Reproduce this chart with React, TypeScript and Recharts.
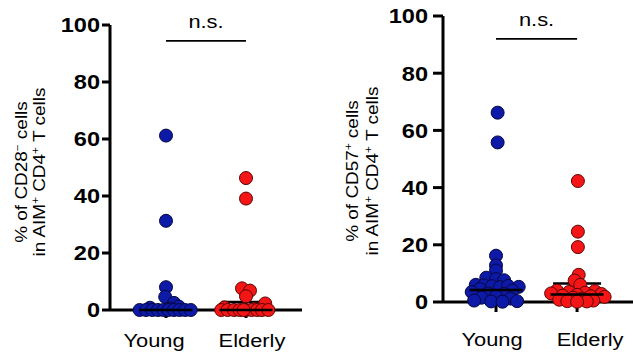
import React from "react";
import { ScatterChart, Scatter, XAxis, YAxis, ErrorBar, ReferenceLine } from "recharts";

const groups = ["Young", "Elderly"];
const yTicks = [0, 20, 40, 60, 80, 100];

// % CD28- panel
const cd28YoungValues = [61.2, 31.3, 8.0, 4.6, 2.5, 1.2, 0.8, 0.5, 0, 0, 0, 0, 0, 0, 0, 0, 0, 0];
const cd28YoungJitter = [0, 0, 0, -0.01, 0.1, 0.16, -0.2, 0.05, -0.33, -0.25, -0.17, -0.1, -0.03, 0.03, 0.1, 0.17, 0.24, 0.31];
const cd28ElderlyValues = [46.3, 39.1, 7.6, 6.8, 4.8, 2.3, 0.9, 0.4, 0, 0, 0, 0, 0, 0, 0, 0, 0, 0];
const cd28ElderlyJitter = [0, 0, -0.05, 0.05, 0, 0.24, -0.27, 0.1, -0.31, -0.23, -0.15, -0.08, 0, 0.07, 0.14, 0.2, 0.28, -0.03];
const cd28Median = [0, 0];
const cd28Q1 = [0, 0];
const cd28Q3 = [1.5, 2.8];

// % CD57+ panel
const cd57YoungValues = [66.2, 55.8, 16.2, 12.8, 11.0, 8.5, 8.0, 7.6, 6.0, 5.8, 5.5, 5.2, 5.6, 5.3, 4.5, 4.0, 3.5, 3.0, 2.8, 2.0, 1.5, 1.2, 0.5, 0.3, 0.2, 0.1];
const cd57YoungJitter = [0.02, 0.02, 0, 0, 0, -0.12, 0, 0.1, -0.25, -0.15, -0.05, 0.05, 0.15, 0.28, -0.2, 0.2, -0.3, -0.1, 0.1, 0, -0.18, 0.18, -0.27, 0.26, -0.06, 0.08];
const cd57ElderlyValues = [42.3, 24.6, 19.2, 9.5, 7.5, 6.0, 4.0, 3.8, 3.5, 3.2, 3.0, 2.8, 2.5, 2.2, 2.0, 1.8, 1.5, 1.2, 0.8, 0.5, 0.3, 0.2, 0.1];
const cd57ElderlyJitter = [0.01, 0.01, 0.01, 0.02, -0.03, 0.04, -0.25, 0.22, -0.1, 0.1, -0.32, 0.3, 0, -0.18, 0.17, 0.34, -0.05, 0.06, -0.22, 0.2, -0.12, 0.12, 0];
const cd57Median = [4.2, 2.6];
const cd57Q1 = [0.8, 0.5];
const cd57Q3 = [6.0, 6.5];

const FONT = "Arial, 'Liberation Sans', sans-serif";
const STRETCH = 1.15;

function toPoints(values: number[], jitter: number[], group: number) {
  return values.map((y, i) => ({ x: group + jitter[i], y }));
}

function toSummary(median: number[], q1: number[], q3: number[]) {
  return median.map((m, i) => ({ x: i, y: m, err: [m - q1[i], q3[i] - m] }));
}

const dot = (fill: string, stroke: string) => (props: any) => (
  <circle cx={props.cx} cy={props.cy} r={6.5} fill={fill} stroke={stroke} strokeWidth={1} />
);

const medianLine = (props: any) => (
  <line x1={props.cx - 26.5} x2={props.cx + 26.5} y1={props.cy} y2={props.cy} stroke="#000" strokeWidth={2.5} />
);

function YTick({ x, y, payload }: any) {
  return (
    <g transform={`translate(${x},${y}) scale(${STRETCH},1)`}>
      <text textAnchor="end" dy="0.36em" fontFamily={FONT} fontWeight="bold" fontSize={20.5} fill="#000">
        {payload.value}
      </text>
    </g>
  );
}

const makeXTick = (shift: number[]) => ({ x, y, payload }: any) => (
  <g transform={`translate(${x + shift[payload.value]},${y}) scale(${STRETCH},1)`}>
    <text textAnchor="middle" dy="0.72em" fontFamily={FONT} fontSize={19} fill="#000">
      {groups[payload.value]}
    </text>
  </g>
);

function NsLabel({ viewBox }: any) {
  const cx = viewBox.x + viewBox.width / 2;
  return (
    <g transform={`translate(${cx},${viewBox.y - 13}) scale(${STRETCH},1)`}>
      <text textAnchor="middle" fontFamily={FONT} fontSize={19} fill="#000">n.s.</text>
    </g>
  );
}

function YLabel({ marker, sign, x1, x2, cy }: any) {
  const sup = (s: string) => (
    <>
      <tspan dy={-6} fontSize={10}>{s}</tspan>
      <tspan dy={6}>{" "}</tspan>
    </>
  );
  return (
    <g fontFamily={FONT} fontSize={16.5} fill="#000">
      <text transform={`translate(${x1},${cy}) rotate(-90) scale(${STRETCH},1)`} textAnchor="middle">
        <tspan>% of {marker}</tspan>
        {sup(sign)}
        <tspan>cells</tspan>
      </text>
      <text transform={`translate(${x2},${cy}) rotate(-90) scale(${STRETCH},1)`} textAnchor="middle">
        <tspan>in AIM</tspan>
        {sup("+")}
        <tspan>CD4</tspan>
        {sup("+")}
        <tspan>T cells</tspan>
      </text>
    </g>
  );
}

type PanelProps = {
  width: number;
  top: number;
  right: number;
  yAxisWidth: number;
  xAxisHeight: number;
  xDomain: [number, number];
  tickSize: number;
  yTickMargin: number;
  xTickMargin: number;
  labelShift: number[];
  young: { x: number; y: number }[];
  elderly: { x: number; y: number }[];
  summary: { x: number; y: number; err: number[] }[];
  nsY: number;
  marker: string;
  sign: string;
  labelX: [number, number];
  labelY: number;
};

function Panel(p: PanelProps) {
  const XTick = makeXTick(p.labelShift);
  return (
    <ScatterChart width={p.width} height={356} margin={{ top: p.top, right: p.right, bottom: 0, left: 0 }}>
      <XAxis
        type="number"
        dataKey="x"
        domain={p.xDomain}
        ticks={[0, 1]}
        interval={0}
        height={p.xAxisHeight}
        axisLine={{ stroke: "#000", strokeWidth: 3 }}
        tickLine={{ stroke: "#000", strokeWidth: 3 }}
        tickSize={p.tickSize}
        tickMargin={p.xTickMargin}
        tick={<XTick />}
      />
      <YAxis
        type="number"
        dataKey="y"
        domain={[0, 100]}
        ticks={yTicks}
        interval={0}
        width={p.yAxisWidth}
        axisLine={{ stroke: "#000", strokeWidth: 3 }}
        tickLine={{ stroke: "#000", strokeWidth: 3 }}
        tickSize={p.tickSize}
        tickMargin={p.yTickMargin}
        tick={<YTick />}
        label={<YLabel marker={p.marker} sign={p.sign} x1={p.labelX[0]} x2={p.labelX[1]} cy={p.labelY} />}
      />
      <ReferenceLine
        segment={[{ x: 0, y: p.nsY }, { x: 1, y: p.nsY }]}
        stroke="#000"
        strokeWidth={1.8}
        label={<NsLabel />}
      />
      <Scatter data={p.young} shape={dot("#0d1aa8", "#07073f")} isAnimationActive={false} />
      <Scatter data={p.elderly} shape={dot("#f41616", "#5a0505")} isAnimationActive={false} />
      <Scatter data={p.summary} shape={medianLine} isAnimationActive={false}>
        <ErrorBar dataKey="err" direction="y" width={24} stroke="#000" strokeWidth={2.5} />
      </Scatter>
    </ScatterChart>
  );
}

export default function App() {
  return (
    <div style={{ position: "absolute", left: 0, top: 0, width: 633, height: 356, background: "#fff", overflow: "hidden" }}>
      <div style={{ position: "absolute", left: 0, top: 0 }}>
        <Panel
          width={320}
          top={25}
          right={18}
          yAxisWidth={110}
          xAxisHeight={46}
          xDomain={[-0.7, 1.7]}
          tickSize={8}
          yTickMargin={2}
          xTickMargin={15}
          labelShift={[-12, 6]}
          young={toPoints(cd28YoungValues, cd28YoungJitter, 0)}
          elderly={toPoints(cd28ElderlyValues, cd28ElderlyJitter, 1)}
          summary={toSummary(cd28Median, cd28Q1, cd28Q3)}
          nsY={94.4}
          marker="CD28"
          sign="−"
          labelX={[27, 45]}
          labelY={172}
        />
      </div>
      <div style={{ position: "absolute", left: 320, top: 0 }}>
        <Panel
          width={313}
          top={16}
          right={0}
          yAxisWidth={123}
          xAxisHeight={54}
          xDomain={[-0.654, 1.69]}
          tickSize={10}
          yTickMargin={5}
          xTickMargin={20}
          labelShift={[-4, 13]}
          young={toPoints(cd57YoungValues, cd57YoungJitter, 0)}
          elderly={toPoints(cd57ElderlyValues, cd57ElderlyJitter, 1)}
          summary={toSummary(cd57Median, cd57Q1, cd57Q3)}
          nsY={92}
          marker="CD57"
          sign="+"
          labelX={[38, 58]}
          labelY={171}
        />
      </div>
    </div>
  );
}
